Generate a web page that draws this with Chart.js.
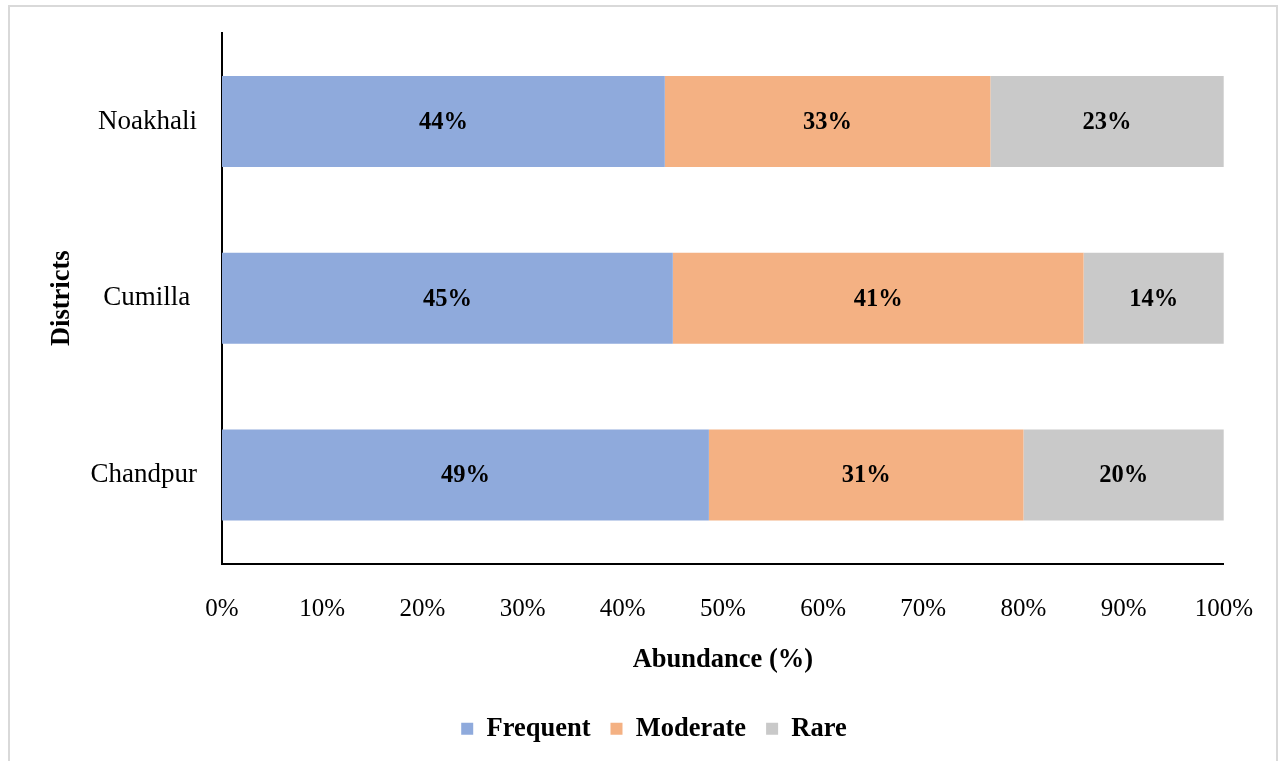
<!DOCTYPE html>
<html>
<head>
<meta charset="utf-8">
<script src="https://cdn.jsdelivr.net/npm/chart.js@4"></script>
<style>
    body { margin: 0; background: #fff; }
    #wrap { position: absolute; left: 0; top: 0; width: 1284px; height: 761px; }
    #frame { position: absolute; left: 8px; top: 5px; width: 1270px; height: 800px; border: 2px solid #d9d9d9; box-sizing: border-box; }
    canvas { position: absolute; left: 0; top: 0; }
</style>
</head>
<body>
<div id="wrap">
    <div id="frame"></div>
    <canvas id="chart" width="1284" height="761"></canvas>
</div>
<script>
const districts = ['Noakhali', 'Cumilla ', 'Chandpur'];
const frequent = [44.2, 45.0, 48.6];
const moderate = [32.5, 41.0, 31.4];
const rare = [23.3, 14.0, 20.0];
const xTicks = [0, 10, 20, 30, 40, 50, 60, 70, 80, 90, 100];

const serif = "'Liberation Serif', 'Times New Roman', serif";

// Draw the % labels in the middle of each segment
const segmentLabels = {
    id: 'segmentLabels',
    afterDatasetsDraw(chart) {
        const ctx = chart.ctx;
        ctx.save();
        ctx.font = "bold 24.5px " + serif;
        ctx.fillStyle = '#000';
        ctx.textAlign = 'center';
        ctx.textBaseline = 'middle';
        chart.data.datasets.forEach((ds, i) => {
            chart.getDatasetMeta(i).data.forEach((bar, j) => {
                const cx = (bar.x + bar.base) / 2;
                ctx.fillText(Math.round(ds.data[j]) + '%', cx, bar.y + 1);
            });
        });
        ctx.restore();
    }
};

// legend sits a bit right of the canvas centre in the original
const shiftLegend = {
    id: 'shiftLegend',
    afterLayout(chart) {
        chart.legend.left += 42;
        chart.legend.right += 42;
    }
};

new Chart(document.getElementById('chart'), {
    type: 'bar',
    data: {
        labels: districts,
        datasets: [
            { label: 'Frequent', data: frequent, backgroundColor: '#8FAADC' },
            { label: 'Moderate', data: moderate, backgroundColor: '#F4B183' },
            { label: 'Rare', data: rare, backgroundColor: '#C9C9C9' }
        ]
    },
    options: {
        indexAxis: 'y',
        responsive: false,
        animation: false,
        devicePixelRatio: 1,
        categoryPercentage: 1,
        barPercentage: 0.515,
        layout: { padding: { top: 33, right: 60, left: 0, bottom: 9 } },
        plugins: {
            tooltip: { enabled: false },
            legend: {
                position: 'bottom',
                labels: {
                    color: '#000',
                    font: { family: serif, size: 26.5, weight: 'bold' },
                    boxWidth: 12,
                    boxHeight: 12,
                    padding: 20
                }
            }
        },
        scales: {
            x: {
                stacked: true,
                min: 0,
                max: 100,
                afterBuildTicks: (scale) => { scale.ticks = xTicks.map(v => ({ value: v })); },
                afterFit: (scale) => { scale.height = 132; },
                grid: { display: false, drawTicks: false },
                border: { display: true, color: '#000', width: 2 },
                ticks: {
                    color: '#000',
                    padding: 31,
                    maxRotation: 0,
                    font: { family: serif, size: 25 },
                    callback: (v) => v + '%'
                },
                title: {
                    display: true,
                    text: 'Abundance (%)',
                    color: '#000',
                    font: { family: serif, size: 26.5, weight: 'bold' },
                    padding: { top: 0, bottom: 19 }
                }
            },
            y: {
                stacked: true,
                afterFit: (scale) => {
                    scale.width = 222;
                    scale.paddingTop = 0;
                    scale.paddingBottom = 0;
                },
                grid: { display: false, drawTicks: false },
                border: { display: true, color: '#000', width: 2 },
                ticks: {
                    color: '#000',
                    padding: 25,
                    font: { family: serif, size: 27 }
                },
                title: {
                    display: true,
                    text: 'Districts',
                    color: '#000',
                    font: { family: serif, size: 26.5, weight: 'bold' },
                    padding: { top: 46, bottom: 0 }
                }
            }
        }
    },
    plugins: [segmentLabels, shiftLegend]
});
</script>
</body>
</html>
